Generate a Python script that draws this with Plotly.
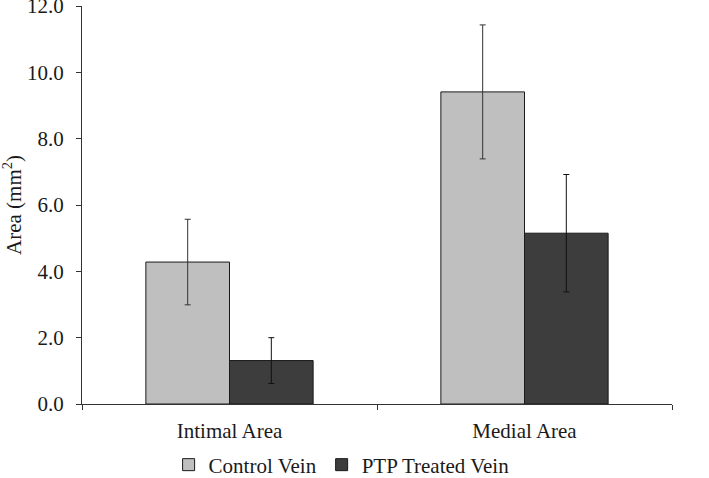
import plotly.graph_objects as go

categories = ["Intimal Area", "Medial Area"]
control_vals = [4.28, 9.41]
control_err = [1.29, 2.02]
ptp_vals = [1.31, 5.15]
ptp_err = [0.69, 1.77]
series_names = ["Control Vein", "PTP Treated Vein"]
y_ticks = [0, 2, 4, 6, 8, 10, 12]

FONT = "Liberation Serif, Times New Roman, serif"
FS = 21

fig = go.Figure()
fig.add_trace(go.Bar(
    x=categories, y=control_vals, name=series_names[0],
    marker=dict(color="#bfbfbf", line=dict(color="#1a1a1a", width=1)),
    error_y=dict(type="data", array=control_err, color="#333333", thickness=1, width=3),
))
fig.add_trace(go.Bar(
    x=categories, y=ptp_vals, name=series_names[1],
    marker=dict(color="#3d3d3d", line=dict(color="#1a1a1a", width=1)),
    error_y=dict(type="data", array=ptp_err, color="#111111", thickness=1, width=3),
))

fig.update_layout(
    width=709, height=478, autosize=False,
    margin=dict(l=82, r=37, t=6, b=74),
    paper_bgcolor="white", plot_bgcolor="white",
    barmode="group", bargap=0.433, bargroupgap=0,
    font=dict(family=FONT, size=FS, color="#1a1a1a"),
    showlegend=True,
    legend=dict(orientation="h", x=0.44, xanchor="center",
                yref="container", y=13 / 478, yanchor="middle",
                bgcolor="rgba(0,0,0,0)",
                font=dict(family=FONT, size=FS), itemwidth=30, tracegroupgap=0),
    annotations=[dict(
        text="Area (mm<sup>2</sup>)", textangle=-90, xref="paper", yref="paper",
        x=-70 / 590, y=0.5, xanchor="center", yanchor="middle", showarrow=False,
        font=dict(family=FONT, size=FS, color="#1a1a1a"),
    )],
)
fig.update_xaxes(
    showline=True, linecolor="#333333", linewidth=1,
    ticks="outside", tickson="boundaries", ticklen=5, tickcolor="#333333",
    showgrid=False, tickfont=dict(family=FONT, size=FS), automargin=False,
    ticklabelstandoff=8,
)
fig.update_yaxes(
    range=[0, 12], tickvals=y_ticks, tickformat=".1f",
    showline=True, linecolor="#333333", linewidth=1,
    ticks="outside", ticklen=5, tickcolor="#333333",
    showgrid=False, zeroline=False, automargin=False,
    tickfont=dict(family=FONT, size=FS), ticklabelstandoff=8,
    ticklabeloverflow="allow",
)

fig.write_html(
    "out.html",
    config={"responsive": False, "displayModeBar": False},
    post_script="document.body.style.margin='0';",
)
